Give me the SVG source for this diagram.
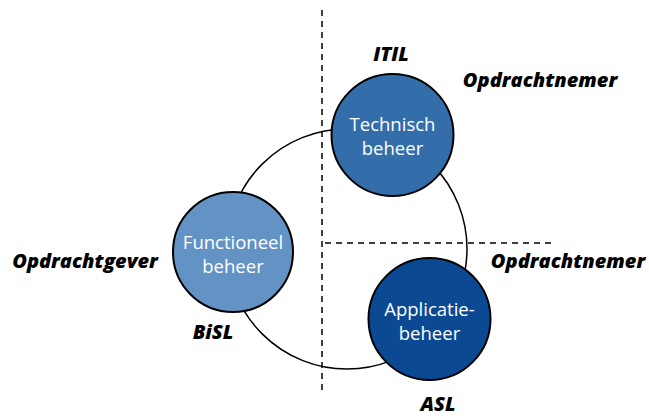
<svg xmlns="http://www.w3.org/2000/svg" width="649" height="417" viewBox="0 0 649 417">
<style>
.lbl{font-family:"Open Sans","Liberation Sans",sans-serif;font-weight:800;font-style:italic;font-size:20px;fill:#000}
.nt{font-family:"Open Sans","Liberation Sans",sans-serif;font-size:18.5px;fill:#fff;text-anchor:middle}
.node{stroke:#000;stroke-width:2}
.dash{stroke:#000;stroke-width:1.5;stroke-dasharray:6,5;fill:none}
</style>
<rect width="649" height="417" fill="#fff"/>
<g id="connectors">
<circle cx="347" cy="249" r="120" fill="none" stroke="#000" stroke-width="1.5"/>
<line class="dash" x1="322" y1="10" x2="322" y2="392"/>
<line class="dash" x1="325" y1="243" x2="556" y2="243"/>
</g>
<g id="technisch">
<circle class="node" cx="392.5" cy="135" r="61" fill="#336EAB"/>
<text class="nt" x="392.5" y="131">Technisch</text>
<text class="nt" x="392.5" y="155">beheer</text>
</g>
<g id="functioneel">
<circle class="node" cx="233" cy="252" r="60" fill="#6393C4"/>
<text class="nt" x="233" y="249">Functioneel</text>
<text class="nt" x="233" y="273">beheer</text>
</g>
<g id="applicatie">
<circle class="node" cx="429.5" cy="319" r="61" fill="#0B4A93"/>
<text class="nt" x="429.5" y="316">Applicatie-</text>
<text class="nt" x="429.5" y="340">beheer</text>
</g>
<g id="labels">
<text class="lbl" x="391" y="61" text-anchor="middle">ITIL</text>
<text class="lbl" x="540" y="87" text-anchor="middle">Opdrachtnemer</text>
<text class="lbl" x="568" y="268" text-anchor="middle">Opdrachtnemer</text>
<text class="lbl" x="85" y="268" text-anchor="middle">Opdrachtgever</text>
<text class="lbl" x="213" y="339" text-anchor="middle">BiSL</text>
<text class="lbl" x="438" y="411" text-anchor="middle">ASL</text>
</g>
</svg>
